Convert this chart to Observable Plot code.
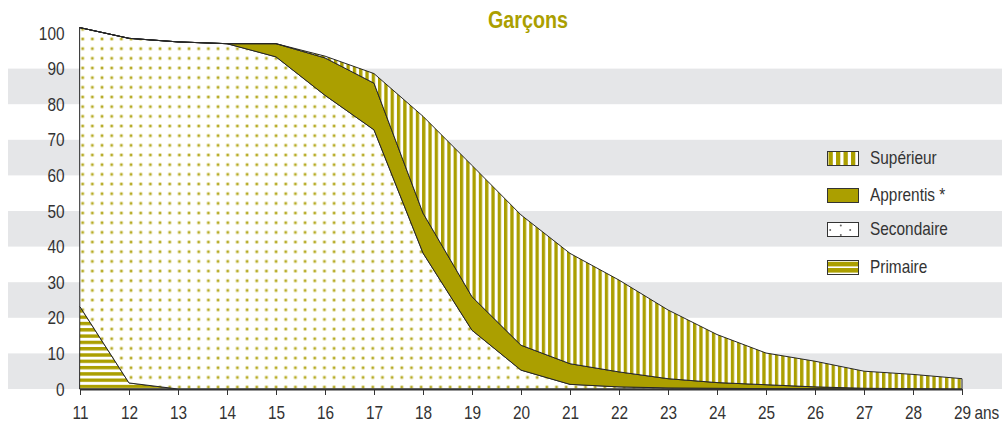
<!DOCTYPE html>
<html><head><meta charset="utf-8">
<script src="https://cdn.jsdelivr.net/npm/d3@7"></script>
<script src="https://cdn.jsdelivr.net/npm/@observablehq/plot@0.6"></script>
<style>
body{margin:0;background:#fff;}
#wrap{position:relative;width:1002px;height:423px;font-family:"Liberation Sans",Arial,sans-serif;color:#333;}
#title{position:absolute;left:528px;top:9px;transform:translateX(-50%) scaleX(0.84);font-size:23.5px;font-weight:bold;color:#ab9f00;line-height:1;white-space:nowrap;}
.leg{position:absolute;left:827px;height:15px;display:flex;align-items:center;font-size:19px;white-space:nowrap;}
.leg svg{margin-right:11px;flex:none;}
.leg span{display:inline-block;transform:scaleX(0.81);transform-origin:left center;}
</style></head><body>
<div id="wrap"><div id="title">Garçons</div></div>
<script>
const ages = [11,12,13,14,15,16,17,18,19,20,21,22,23,24,25,26,27,28,29];
const primaire   = [23.1, 1.7, 0, 0, 0, 0, 0, 0, 0, 0, 0, 0, 0, 0, 0, 0, 0, 0, 0];
const secondaire = [78.4, 96.8, 97.5, 97.0, 93.3, 82.5, 72.8, 38.2, 16.5, 5.3, 1.3, 0.6, 0.3, 0.2, 0.1, 0.1, 0, 0, 0];
const apprentis  = [0, 0, 0, 0, 3.7, 10.5, 13.1, 11.2, 9.4, 7.0, 5.8, 4.2, 2.6, 1.6, 1.1, 0.5, 0.2, 0.1, 0];
const superieur  = [0, 0, 0, 0, 0, 0.5, 2.7, 27.2, 36.9, 36.6, 31.0, 25.8, 19.3, 13.5, 8.9, 7.2, 4.8, 4.0, 2.9];
const categories = ["Primaire", "Secondaire", "Apprentis *", "Supérieur"];
const legendOrder = ["Supérieur", "Apprentis *", "Secondaire", "Primaire"];
const yTicks = [0,10,20,30,40,50,60,70,80,90,100];
const bandStarts = [0,20,40,60,80];

const OLIVE = "#ab9f00";
const FONT = '"Liberation Sans",Arial,sans-serif';
const series = [primaire, secondaire, apprentis, superieur];
const data = categories.flatMap((c, i) => ages.map((a, j) => ({age: a, cat: c, value: series[i][j]})));
const fills = ["url(#hstripes)", "url(#dots)", OLIVE, "url(#vstripes)"];

function bands(index, scales, values, dims) {
  const g = d3.create("svg:g");
  for (const b of bandStarts) {
    g.append("rect").attr("x", 8).attr("width", dims.width - 8)
      .attr("y", scales.y(b + 10)).attr("height", scales.y(b) - scales.y(b + 10))
      .attr("fill", "#e5e6e8");
  }
  return g.node();
}

const svg = Plot.plot({
  width: 1002, height: 423,
  marginLeft: 80, marginRight: 40, marginTop: 33, marginBottom: 34,
  style: {fontFamily: FONT, fontSize: "19px", color: "#333", background: "transparent", overflow: "visible"},
  x: {domain: [11, 29], label: null},
  y: {domain: [0, 100], label: null},
  color: {domain: categories, range: fills},
  marks: [
    bands,
    Plot.areaY(data, {x: "age", y: "value", z: "cat", fill: "cat", stroke: "#262626", strokeWidth: 1, strokeLinejoin: "round"}),
    Plot.ruleY([0], {stroke: "#333", strokeWidth: 2}),
    Plot.axisX({ticks: ages, tickFormat: d => String(d), tickSize: 6, tickPadding: 10, fontSize: 19, stroke: "#333", label: null}),
    Plot.axisY({ticks: yTicks, tickSize: 0, tickPadding: 16, fontSize: 19, label: null}),
    Plot.text([ages[ages.length - 1]], {x: d => d, frameAnchor: "bottom", text: () => "ans", textAnchor: "start", lineAnchor: "top", dx: 12, dy: 16, fontSize: 19, fill: "#333"})
  ]
});

// pattern definitions
const defs = d3.create("svg:defs");
const pd = defs.append("pattern").attr("id", "dots").attr("patternUnits", "userSpaceOnUse")
  .attr("x", 0.5).attr("y", -4.5).attr("width", 9.67).attr("height", 9.67);
pd.append("rect").attr("width", 9.67).attr("height", 9.67).attr("fill", "#fff");
pd.append("circle").attr("cx", 4.83).attr("cy", 4.83).attr("r", 2).attr("fill", "#e2dda0");
pd.append("circle").attr("cx", 4.83).attr("cy", 4.83).attr("r", 1.1).attr("fill", "#b3a71e");
const pv = defs.append("pattern").attr("id", "vstripes").attr("patternUnits", "userSpaceOnUse")
  .attr("width", 6.3).attr("height", 10);
pv.append("rect").attr("width", 6.3).attr("height", 10).attr("fill", "#fff");
pv.append("rect").attr("width", 3.3).attr("height", 10).attr("fill", OLIVE);
const ph = defs.append("pattern").attr("id", "hstripes").attr("patternUnits", "userSpaceOnUse")
  .attr("width", 10).attr("height", 6.3).attr("y", 0.5);
ph.append("rect").attr("width", 10).attr("height", 6.3).attr("fill", "#fff");
ph.append("rect").attr("width", 10).attr("height", 3.4).attr("fill", OLIVE);
svg.insertBefore(defs.node(), svg.firstChild);

const wrap = document.getElementById("wrap");
wrap.insertBefore(svg, wrap.firstChild);
svg.style.position = "absolute"; svg.style.left = "0"; svg.style.top = "0";

// condense svg texts horizontally (narrow typeface look)
svg.querySelectorAll("text").forEach(t => {
  const w = t.getComputedTextLength();
  if (w > 0) {
    t.setAttribute("textLength", (w * 0.81).toFixed(2));
    t.setAttribute("lengthAdjust", "spacingAndGlyphs");
  }
});

// legend
const legTops = {"Supérieur": 150.5, "Apprentis *": 187.5, "Secondaire": 221.5, "Primaire": 259.5};
function swatch(cat) {
  const s = d3.create("svg").attr("width", 32).attr("height", 15);
  const g = s.append("g");
  g.append("rect").attr("x", 0.5).attr("y", 0.5).attr("width", 31).attr("height", 14).attr("fill", cat === "Apprentis *" ? OLIVE : "#fff");
  if (cat === "Supérieur") {
    for (const x of [1.5, 9, 16.5, 24]) g.append("rect").attr("x", x).attr("y", 0.5).attr("width", 4.3).attr("height", 14).attr("fill", OLIVE);
  } else if (cat === "Primaire") {
    g.append("rect").attr("x", 0.5).attr("y", 1.8).attr("width", 31).attr("height", 4.6).attr("fill", OLIVE);
    g.append("rect").attr("x", 0.5).attr("y", 8).attr("width", 31).attr("height", 4.6).attr("fill", OLIVE);
  } else if (cat === "Secondaire") {
    for (const [x, y] of [[3.2, 8], [13.8, 3.6], [23.2, 8], [13.8, 13]]) g.append("circle").attr("cx", x).attr("cy", y).attr("r", 1).attr("fill", "#666");
  }
  g.append("rect").attr("x", 0.5).attr("y", 0.5).attr("width", 31).attr("height", 14).attr("fill", "none").attr("stroke", "#333").attr("stroke-width", 1);
  return s.node();
}
for (const cat of legendOrder) {
  const d = document.createElement("div");
  d.className = "leg";
  d.style.top = legTops[cat] + "px";
  d.appendChild(swatch(cat));
  const t = document.createElement("span");
  t.textContent = cat;
  d.appendChild(t);
  wrap.appendChild(d);
}
</script>
</body></html>
